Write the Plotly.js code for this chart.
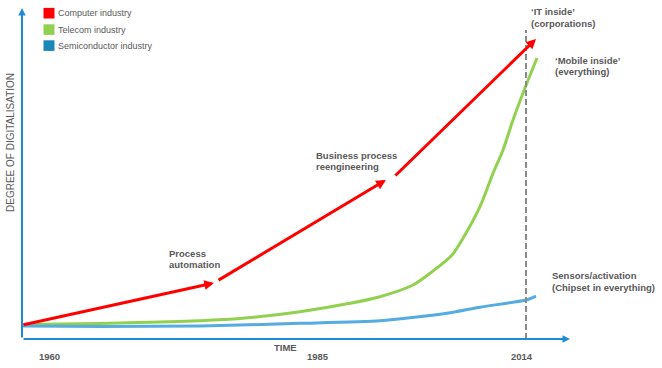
<!DOCTYPE html>
<html><head><meta charset="utf-8">
<script src="https://cdn.plot.ly/plotly-3.0.1.min.js"></script>
<style>html,body{margin:0;padding:0;background:#fff}#chart{width:662px;height:368px}</style>
</head><body><div id="chart"></div>
<script>
// ---- DATA (abstract time units on x, degree of digitalisation on y) ----
const seriesNames = ['Computer industry', 'Telecom industry', 'Semiconductor industry'];

// Computer industry: three arrow segments
const computerStartX = [0, 38.7, 73.8];
const computerStartY = [4.67, 19.33, 54];
const computerEndX = [38.1, 72.2, 101.98];
const computerEndY = [18.67, 53, 100];

// Telecom industry curve
const telecomX = [0, 15.48, 27.38, 35.32, 43.25, 55.16, 65.08, 71.03, 77.58, 80.95, 85.32, 87.5, 90.87, 93.45, 95.44, 97.42, 99.8, 102.18];
const telecomY = [4.83, 5.17, 5.67, 6.1, 6.83, 9.1, 11.9, 14.1, 18, 21.9, 28, 33.57, 44.1, 55.23, 63, 73, 83.67, 93.67];

// Semiconductor industry curve
const semiX = [0, 15.48, 35.32, 55.16, 71.03, 84.33, 90.87, 100, 101.98];
const semiY = [4.33, 4.17, 4.33, 5.23, 6.1, 8.57, 10.6, 13, 14.33];

// Year labels on the time axis
const yearTickVals = [5.5, 58.8, 99.2];
const yearTickText = ['1960', '1985', '2014'];

// 2014 marker line
const markerYear = 100;
const markerTop = 103;

// Axis extents
const axisXEnd = 108.73;
const axisYEnd = 110.3;

// Callout labels (each with two lines)
const callouts = [
  {lines: ['Process', 'automation'], px: 167, py: [253.5, 264.5]},
  {lines: ['Business process', 'reengineering'], px: 314, py: [155, 166]},
  {lines: ['\u2018IT inside\u2019', '(corporations)'], px: 528.5, py: [11.5, 23.5]},
  {lines: ['\u2018Mobile inside\u2019', '(everything)'], px: 553, py: [60, 71.5]},
  {lines: ['Sensors/activation', '(Chipset in everything)'], px: 550, py: [275.5, 287]}
];

// ---- STYLE ----
const W = 662, H = 368;
const colors = ['#ff0000', '#92d050', '#55ace0'];
const legendColors = ['#ff0000', '#92d050', '#1a87b6'];
const axisColor = '#1d8bd5';
const textColor = '#595959';
const FONT = 'Liberation Sans, Arial, sans-serif';
const P = (px, py) => ({x: px / W, y: 1 - py / H});

const traces = [
  {x: telecomX, y: telecomY, type: 'scatter', mode: 'lines', name: seriesNames[1],
   line: {color: colors[1], width: 3, shape: 'spline', smoothing: 0.8}, showlegend: false, hoverinfo: 'skip'},
  {x: semiX, y: semiY, type: 'scatter', mode: 'lines', name: seriesNames[2],
   line: {color: colors[2], width: 3, shape: 'spline', smoothing: 0.6}, showlegend: false, hoverinfo: 'skip'}
];

const annotations = [];
// axes with arrows
annotations.push({x: axisXEnd, y: 0, ax: 0, ay: 0, xref: 'x', yref: 'y', axref: 'x', ayref: 'y',
  text: '', showarrow: true, arrowhead: 2, arrowsize: 0.75, arrowwidth: 2, arrowcolor: axisColor});
annotations.push({x: 0, y: axisYEnd, ax: 0, ay: 0, xref: 'x', yref: 'y', axref: 'x', ayref: 'y',
  text: '', showarrow: true, arrowhead: 2, arrowsize: 0.75, arrowwidth: 2, arrowcolor: axisColor});
// red computer industry arrows
for (let i = 0; i < computerStartX.length; i++) {
  annotations.push({x: computerEndX[i], y: computerEndY[i], ax: computerStartX[i], ay: computerStartY[i],
    xref: 'x', yref: 'y', axref: 'x', ayref: 'y', text: '', showarrow: true,
    arrowhead: 2, arrowsize: 0.65, arrowwidth: 3, arrowcolor: colors[0]});
}
// year labels
for (let i = 0; i < yearTickVals.length; i++) {
  annotations.push({x: yearTickVals[i], y: -5.67, xref: 'x', yref: 'y', text: yearTickText[i],
    showarrow: false, xanchor: 'center', yanchor: 'middle',
    font: {family: FONT, size: 9.5, color: textColor, weight: 'bold'}});
}
// TIME
annotations.push(Object.assign(P(285, 347.5), {xref: 'paper', yref: 'paper', text: 'TIME', showarrow: false,
  xanchor: 'center', yanchor: 'middle', font: {family: FONT, size: 9.5, color: textColor, weight: 'bold'}}));
// Y title
annotations.push(Object.assign(P(10, 143), {xref: 'paper', yref: 'paper', text: 'DEGREE OF DIGITALISATION',
  showarrow: false, textangle: -90, xanchor: 'center', yanchor: 'middle',
  font: {family: FONT, size: 10, color: textColor}}));
// callouts
callouts.forEach(c => {
  c.lines.forEach((ln, j) => {
    annotations.push(Object.assign(P(c.px, c.py[j]), {xref: 'paper', yref: 'paper', text: ln, showarrow: false,
      xanchor: 'left', yanchor: 'middle', font: {family: FONT, size: 9.5, color: textColor, weight: 'bold'}}));
  });
});
// legend
const shapes = [];
const legY = [13.2, 29.6, 45.6];
seriesNames.forEach((n, i) => {
  shapes.push({type: 'rect', xref: 'paper', yref: 'paper',
    x0: 43.5 / W, x1: 54.5 / W, y0: 1 - (legY[i] - 5.3) / H, y1: 1 - (legY[i] + 5.3) / H,
    fillcolor: legendColors[i], line: {width: 0}});
  annotations.push(Object.assign(P(56, legY[i]), {xref: 'paper', yref: 'paper', text: n, showarrow: false,
    xanchor: 'left', yanchor: 'middle', font: {family: FONT, size: 9, color: textColor}}));
});
// 2014 dashed marker
shapes.push({type: 'line', xref: 'x', yref: 'y', x0: markerYear, x1: markerYear, y0: 0, y1: markerTop,
  line: {color: '#8a8a8a', width: 2, dash: '6px,3px'}, layer: 'above'});

const layout = {
  width: W, height: H,
  margin: {l: 0, r: 0, t: 0, b: 0, pad: 0},
  paper_bgcolor: '#ffffff', plot_bgcolor: '#ffffff',
  xaxis: {range: [-22 / 5.04, (W - 22) / 5.04], visible: false, fixedrange: true},
  yaxis: {range: [-(H - 339) / 3, 339 / 3], visible: false, fixedrange: true},
  showlegend: false,
  annotations: annotations,
  shapes: shapes
};

Plotly.newPlot('chart', traces, layout, {staticPlot: true, displayModeBar: false});
</script>
</body></html>
